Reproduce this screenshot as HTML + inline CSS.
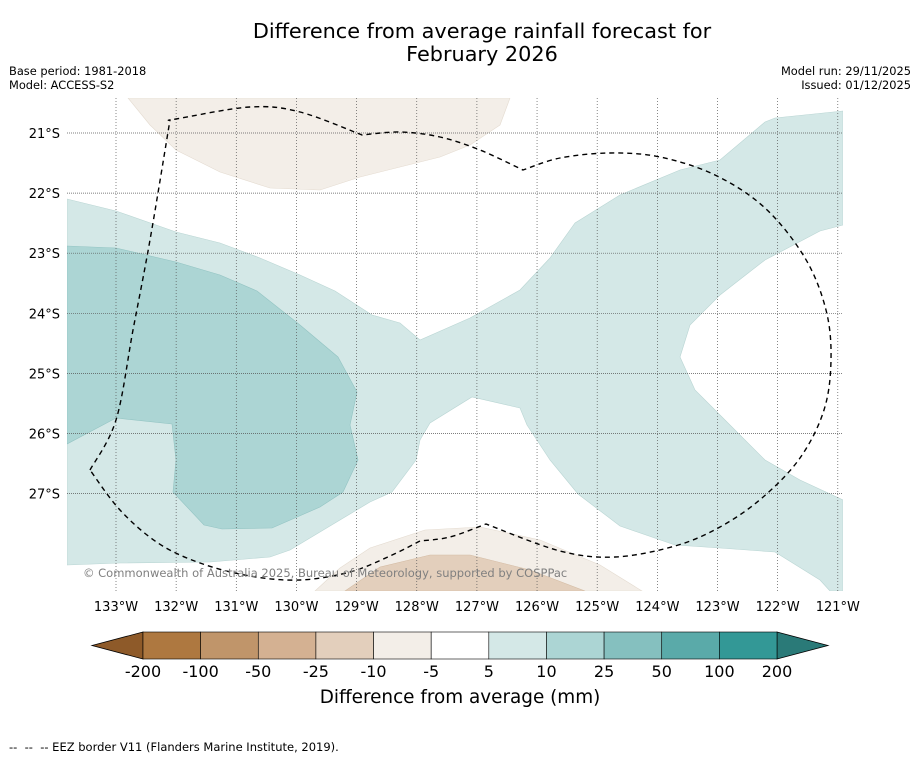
<!DOCTYPE html>
<html><head><meta charset="utf-8"><style>
html,body{margin:0;padding:0;background:#fff;width:919px;height:758px;overflow:hidden;font-family:"Liberation Sans","DejaVu Sans",sans-serif}
</style></head><body>
<svg id="chart" width="919" height="758" viewBox="0 0 919 758" xmlns="http://www.w3.org/2000/svg" font-family="DejaVu Sans, Liberation Sans, sans-serif">
<text x="482" y="38" font-size="20.8" text-anchor="middle">Difference from average rainfall forecast for</text>
<text x="482" y="61" font-size="20.8" text-anchor="middle">February 2026</text>
<text x="9" y="75" font-size="11.4">Base period: 1981-2018</text>
<text x="9" y="89" font-size="11.4">Model: ACCESS-S2</text>
<text x="911" y="75" font-size="11.4" text-anchor="end">Model run: 29/11/2025</text>
<text x="911" y="89" font-size="11.4" text-anchor="end">Issued: 01/12/2025</text>
<defs><clipPath id="mapclip"><rect x="67" y="98" width="776" height="493"/></clipPath></defs>
<g id="map" clip-path="url(#mapclip)">
<polygon fill="#d4e8e7" stroke="#b9d5d3" stroke-width="0.6" points="67,199 116,211 176,232 220,243 260,258 300,275 335,291 372,315 400,323 420,340 470,318 520,290 550,258 575,223 620,195 680,170 720,160 765,122 775,118 843,111 843,225 820,231 765,260 720,295 690,325 680,357 695,390 730,425 765,460 800,480 843,500 843,591 830,591 820,580 775,552 720,548 675,545 620,526 578,494 550,460 527,425 520,408 472,397 430,423 420,440 416,460 392,492 370,502 340,520 290,550 270,557 210,562 120,563 67,565"/>
<polygon fill="#acd5d4" stroke="#93c4c3" stroke-width="0.6" points="67,246 116,248 176,262 220,275 257,291 300,325 338,357 357,392 350,425 358,460 343,492 320,507 272,528 222,529 204,525 173,492 176,460 172,424 116,418 67,444"/>
<polygon fill="#f3eee8" stroke="#e4dbd0" stroke-width="0.6" points="128,98 510,98 500,125 470,145 440,157 400,167 360,177 320,190 270,188 220,172 176,150 150,125"/>
<polygon fill="#f3eee8" stroke="#e4dbd0" stroke-width="0.6" points="315,591 340,568 370,548 425,530 480,527 540,540 600,565 642,591"/>
<polygon fill="#e3cfbc" stroke="#d4bca4" stroke-width="0.6" points="345,591 380,567 430,555 470,555 530,570 585,591"/>
<g id="grid"></g>
<path id="eez" fill="none" stroke="#000" stroke-width="1.4" stroke-dasharray="5,4" d=""/>
</g>
<text x="83" y="577" font-size="11.5" fill="#808080">© Commonwealth of Australia 2025, Bureau of Meteorology, supported by COSPPac</text>
<g id="axes"></g>
<g id="colorbar"></g>
<text x="460" y="703" font-size="18.4" text-anchor="middle">Difference from average (mm)</text>
<text x="9" y="751" font-size="11.5" xml:space="preserve">--  --  -- EEZ border V11 (Flanders Marine Institute, 2019).</text>
</svg>
<script>
const lonTicks=[133,132,131,130,129,128,127,126,125,124,123,122,121];
const latTicks=[21,22,23,24,25,26,27];
const cbLabels=["-200","-100","-50","-25","-10","-5","5","10","25","50","100","200"];
const cbColors=["#ae7840","#c0956a","#d4b192","#e3cfbc","#f3eee8","#ffffff","#d4e8e7","#acd5d4","#85c0bf","#5aaaa9","#339896"];
const cbExtColors=["#8e5a29","#2a7a78"];
const NS="http://www.w3.org/2000/svg";
function xLon(l){return 116+(133-l)*60.15;}
function yLat(l){return 133+(l-21)*60.1;}
function mk(t,a,p){const e=document.createElementNS(NS,t);for(const k in a)e.setAttribute(k,a[k]);p.appendChild(e);return e;}
// EEZ border: segments smoothed separately so corners stay sharp
const eezSegs=[
 [[90,470],[116,420],[133,330],[150,240],[170,120]],
 [[170,120],[176,119],[250,107],[300,112],[362,135]],
 [[362,135],[400,132],[440,137],[480,150],[523,170]],
 [[523,170],[560,158],[610,153],[660,157],[715,175],[765,208],[805,258],[826,310],[831,360],[824,410],[800,458],[762,498],[720,527],[675,546],[615,557],[560,551],[486,524]],
 [[486,524],[450,537],[420,541]],
 [[420,541],[390,556],[350,572],[300,580],[250,576],[200,563],[158,543],[120,510],[90,470]]];
(function(){let d='';
 eezSegs.forEach((P,si)=>{d+=(si===0?'M':' L')+P[0].join(',');
 for(let i=0;i<P.length-1;i++){const p0=P[Math.max(0,i-1)],p1=P[i],p2=P[i+1],p3=P[Math.min(P.length-1,i+2)];
 const c1=[p1[0]+(p2[0]-p0[0])/6,p1[1]+(p2[1]-p0[1])/6],c2=[p2[0]-(p3[0]-p1[0])/6,p2[1]-(p3[1]-p1[1])/6];
 d+=` C${c1[0]},${c1[1]} ${c2[0]},${c2[1]} ${p2[0]},${p2[1]}`;}});
 document.getElementById('eez').setAttribute('d',d);})();
const grid=document.getElementById('grid'),axes=document.getElementById('axes'),cb=document.getElementById('colorbar');
lonTicks.forEach(l=>{const x=xLon(l);
 const ln=mk('line',{x1:x,x2:x,y1:98,y2:591,stroke:'#555','stroke-width':0.7,'stroke-dasharray':'1,2'},grid);
 
 
 const t=mk('text',{x:x,y:611,'font-size':13,'text-anchor':'middle'},axes);t.textContent=l+'°W';
 
 });
latTicks.forEach(l=>{const y=yLat(l);
 const ln=mk('line',{x1:67,x2:843,y1:y,y2:y,stroke:'#555','stroke-width':0.7,'stroke-dasharray':'1,1'},grid);
 
 
 const t=mk('text',{x:60,y:y+5,'font-size':13,'text-anchor':'end'},axes);t.textContent=l+'°S';
 
 });
const cx0=143,cx1=777,cy0=632,cy1=659,w=(cx1-cx0)/cbColors.length;
const l1=mk('polygon',{points:`92,${(cy0+cy1)/2} ${cx0},${cy0} ${cx0},${cy1}`,fill:cbExtColors[0],stroke:'#000','stroke-width':0.8},cb);


const r1=mk('polygon',{points:`828,${(cy0+cy1)/2} ${cx1},${cy0} ${cx1},${cy1}`,fill:cbExtColors[1],stroke:'#000','stroke-width':0.8},cb);


cbColors.forEach((c,i)=>{const r=mk('rect',{x:cx0+i*w,y:cy0,width:w,height:cy1-cy0,fill:c,stroke:'#000','stroke-width':0.6},cb);
 
 });
cbLabels.forEach((s,i)=>{const t=mk('text',{x:cx0+i*w,y:677,'font-size':16,'text-anchor':'middle'},cb);t.textContent=s;
 
 });
</script>
</body></html>
